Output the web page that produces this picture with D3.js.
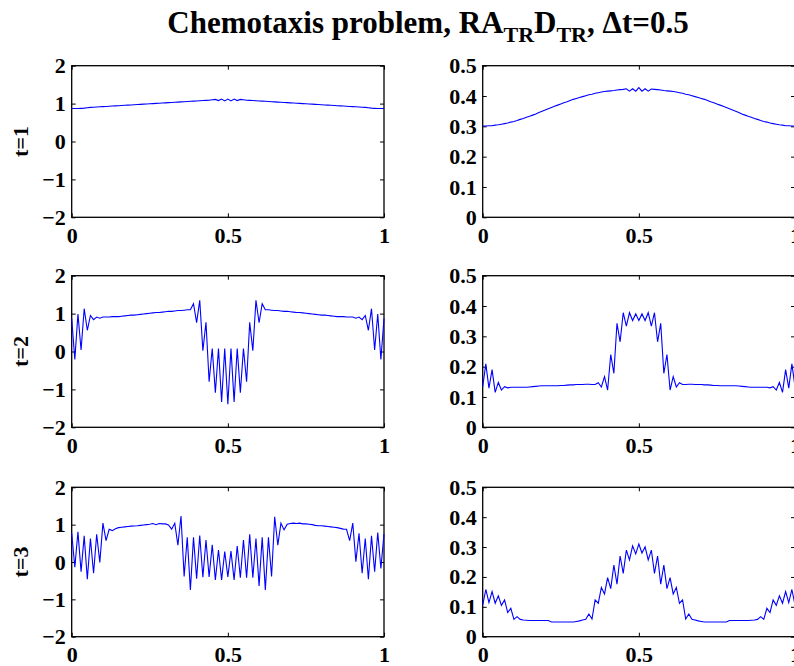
<!DOCTYPE html>
<html>
<head>
<meta charset="utf-8">
<script src="https://cdn.jsdelivr.net/npm/d3@7"></script>
<style>
  body { margin: 0; background: #fff; }
  text { font-family: "Liberation Serif", "Times New Roman", serif; font-weight: bold; }
</style>
</head>
<body>
<svg id="chart" width="794" height="666"></svg>
<script>
// tick values
const xTicks = [0, 0.5, 1]
const uTicks = [-2, -1, 0, 1, 2]
const vTicks = [0, 0.1, 0.2, 0.3, 0.4, 0.5]
const rowLabels = ["t=1", "t=2", "t=3"]

// left column (u), 101 grid points on [0,1]
const u1 = [0.87,0.87,0.87,0.875,0.88,0.89,0.90,0.905,0.91,0.915,
  0.92,0.925,0.93,0.935,0.94,0.945,0.95,0.955,0.96,0.965,
  0.97,0.975,0.98,0.985,0.99,0.995,1.00,1.005,1.01,1.015,
  1.02,1.025,1.03,1.035,1.04,1.045,1.05,1.055,1.06,1.065,
  1.07,1.075,1.08,1.085,1.09,1.10,1.11,1.08,1.12,1.07,
  1.12,
  1.07,1.12,1.08,1.11,1.10,1.09,1.085,1.08,1.075,1.07,
  1.065,1.06,1.055,1.05,1.045,1.04,1.035,1.03,1.025,1.02,
  1.015,1.01,1.005,1.00,0.995,0.99,0.985,0.98,0.975,0.97,
  0.965,0.96,0.955,0.95,0.945,0.94,0.935,0.93,0.925,0.92,
  0.915,0.91,0.905,0.90,0.89,0.88,0.875,0.87,0.87,0.87]

const u2 = [0.87,-0.21,0.99,0.04,1.13,0.56,0.95,0.84,0.91,0.88,
  0.91,0.91,0.91,0.92,0.92,0.92,0.93,0.94,0.95,0.96,
  0.96,0.97,0.98,0.99,1.00,1.01,1.02,1.03,1.03,1.04,
  1.05,1.06,1.06,1.07,1.08,1.08,1.09,1.10,1.10,1.26,
  0.76,1.35,0.02,0.77,-0.80,0.08,-1.09,0.08,-1.33,0.08,
  -1.39,
  0.08,-1.33,0.08,-1.09,0.08,-0.80,0.77,0.02,1.35,0.76,
  1.26,1.10,1.10,1.09,1.08,1.08,1.07,1.06,1.06,1.05,
  1.04,1.03,1.03,1.02,1.01,1.00,0.99,0.98,0.97,0.96,
  0.96,0.95,0.94,0.93,0.92,0.92,0.92,0.91,0.91,0.91,
  0.88,0.91,0.84,0.95,0.56,1.13,0.04,0.99,-0.21,0.87]

const u3 = [0.77,-0.14,0.81,-0.26,0.70,-0.46,0.63,-0.30,0.74,-0.01,
  1.04,0.57,0.875,0.84,0.89,0.92,0.93,0.94,0.95,0.96,
  0.965,0.97,0.98,0.99,1.00,1.01,1.03,1.00,1.03,1.02,
  1.02,0.99,0.88,1.04,0.45,1.23,-0.39,0.66,-0.75,0.66,
  -0.45,0.71,-0.41,0.59,-0.40,0.46,-0.48,0.32,-0.48,0.28,
  -0.40,
  0.29,-0.48,0.43,-0.42,0.59,-0.42,0.74,-0.42,0.63,-0.64,
  0.66,-0.75,0.66,-0.39,1.21,0.45,1.04,0.86,1.01,1.03,
  1.04,1.03,1.04,1.02,1.02,1.01,1.00,0.98,0.97,0.97,
  0.96,0.95,0.94,0.93,0.92,0.90,0.88,0.875,0.57,1.04,
  0.01,0.77,-0.30,0.63,-0.46,0.70,-0.26,0.79,-0.17,0.75]

// right column (v)
const v1 = [0.301,0.301,0.302,0.302,0.304,0.305,0.307,0.309,0.311,0.314,
  0.316,0.319,0.323,0.326,0.330,0.333,0.337,0.341,0.346,0.350,
  0.354,0.358,0.362,0.366,0.370,0.374,0.378,0.381,0.385,0.389,
  0.392,0.395,0.398,0.401,0.404,0.406,0.409,0.411,0.413,0.415,
  0.416,0.417,0.418,0.420,0.421,0.422,0.424,0.416,0.424,0.416,
  0.428,
  0.416,0.424,0.416,0.423,0.422,0.421,0.420,0.418,0.417,0.416,
  0.415,0.413,0.411,0.409,0.406,0.404,0.401,0.398,0.395,0.392,
  0.389,0.385,0.381,0.378,0.374,0.370,0.366,0.362,0.358,0.354,
  0.350,0.346,0.341,0.337,0.333,0.330,0.326,0.323,0.319,0.316,
  0.314,0.311,0.309,0.307,0.305,0.304,0.302,0.302,0.301,0.301]

const v2 = [0.134,0.209,0.129,0.190,0.115,0.148,0.123,0.134,0.130,0.132,
  0.132,0.132,0.132,0.132,0.132,0.133,0.134,0.135,0.136,0.137,
  0.137,0.137,0.137,0.137,0.137,0.138,0.138,0.139,0.140,0.140,
  0.141,0.141,0.141,0.142,0.142,0.141,0.141,0.147,0.133,0.167,
  0.123,0.240,0.178,0.343,0.282,0.378,0.334,0.378,0.352,0.374,
  0.352,
  0.374,0.352,0.378,0.334,0.378,0.282,0.343,0.178,0.240,0.123,
  0.167,0.133,0.147,0.141,0.141,0.142,0.142,0.141,0.141,0.141,
  0.140,0.140,0.139,0.138,0.138,0.137,0.137,0.137,0.137,0.137,
  0.137,0.136,0.135,0.134,0.133,0.132,0.132,0.132,0.132,0.132,
  0.132,0.130,0.134,0.123,0.148,0.115,0.190,0.129,0.209,0.134]

const v3 = [0.106,0.158,0.114,0.151,0.112,0.137,0.105,0.123,0.081,0.095,
  0.058,0.067,0.058,0.056,0.055,0.054,0.054,0.054,0.054,0.054,
  0.054,0.054,0.049,0.049,0.049,0.049,0.049,0.049,0.049,0.049,
  0.051,0.053,0.056,0.058,0.076,0.059,0.123,0.112,0.165,0.143,
  0.198,0.161,0.240,0.176,0.270,0.212,0.290,0.257,0.304,0.277,
  0.310,
  0.280,0.301,0.257,0.290,0.212,0.270,0.176,0.240,0.161,0.198,
  0.143,0.165,0.112,0.123,0.059,0.076,0.058,0.056,0.053,0.051,
  0.049,0.049,0.049,0.049,0.049,0.049,0.049,0.049,0.054,0.054,
  0.054,0.054,0.054,0.054,0.054,0.055,0.056,0.058,0.067,0.058,
  0.095,0.081,0.123,0.105,0.137,0.112,0.151,0.114,0.158,0.106]

const panels = [[u1, v1], [u2, v2], [u3, v3]]

const svg = d3.select("#chart")

// subplot boxes
const cols = [[71.7, 384], [482.7, 795]]
const rows = [[65.7, 217.3], [275.7, 427.3], [487.3, 636.7]]

const fmt = d3.format("")

rows.forEach((r, ri) => {
  cols.forEach((c, ci) => {
    const data = panels[ri][ci]
    const n = data.length
    const x = d3.scaleLinear().domain([0, 1]).range(c)
    const y = d3.scaleLinear().domain(ci === 0 ? [-2, 2] : [0, 0.5]).range([r[1], r[0]])
    const yt = ci === 0 ? uTicks : vTicks

    const g = svg.append("g")

    // axes with inward ticks
    g.append("g").attr("transform", `translate(0,${r[1]})`)
      .call(d3.axisBottom(x).tickValues(xTicks).tickSize(-4).tickSizeOuter(0).tickPadding(10).tickFormat(fmt))
    g.append("g").attr("transform", `translate(${c[0]},0)`)
      .call(d3.axisLeft(y).tickValues(yt).tickSize(-4).tickSizeOuter(0).tickPadding(6).tickFormat(fmt))
    g.append("g").attr("transform", `translate(0,${r[0]})`)
      .call(d3.axisTop(x).tickValues(xTicks).tickSize(-4).tickSizeOuter(0).tickFormat(""))
    g.append("g").attr("transform", `translate(${c[1]},0)`)
      .call(d3.axisRight(y).tickValues(yt).tickSize(-4).tickSizeOuter(0).tickFormat(""))

    g.selectAll(".domain").remove()
    g.selectAll(".tick line").attr("stroke", "#000")
    g.selectAll(".tick text")
      .attr("fill", "#000")
      .style("font-size", "22px")
      .style("font-family", "'Liberation Serif', 'Times New Roman', serif")
      .style("font-weight", "bold")

    g.append("rect")
      .attr("x", c[0]).attr("y", r[0])
      .attr("width", c[1] - c[0]).attr("height", r[1] - r[0])
      .attr("fill", "none").attr("stroke", "#000").attr("stroke-width", 1.3)

    const line = d3.line()
      .x((d, i) => x(i / (n - 1)))
      .y(d => y(d))

    g.append("path")
      .datum(data)
      .attr("d", line)
      .attr("fill", "none")
      .attr("stroke", "#0000ff")
      .attr("stroke-width", 1.1)
  })

  svg.append("text")
    .attr("transform", `translate(28,${(r[0] + r[1]) / 2}) rotate(-90)`)
    .attr("text-anchor", "middle")
    .style("font-size", "22px")
    .text(rowLabels[ri])
})

// title with subscripts
const title = svg.append("text")
  .attr("x", 428).attr("y", 33)
  .attr("text-anchor", "middle")
  .style("font-size", "31px")
title.append("tspan").text("Chemotaxis problem, RA")
title.append("tspan").attr("dy", 9).style("font-size", "22px").text("TR")
title.append("tspan").attr("dy", -9).text("D")
title.append("tspan").attr("dy", 9).style("font-size", "22px").text("TR")
title.append("tspan").attr("dy", -9).text(", \u0394t=0.5")
</script>
</body>
</html>
